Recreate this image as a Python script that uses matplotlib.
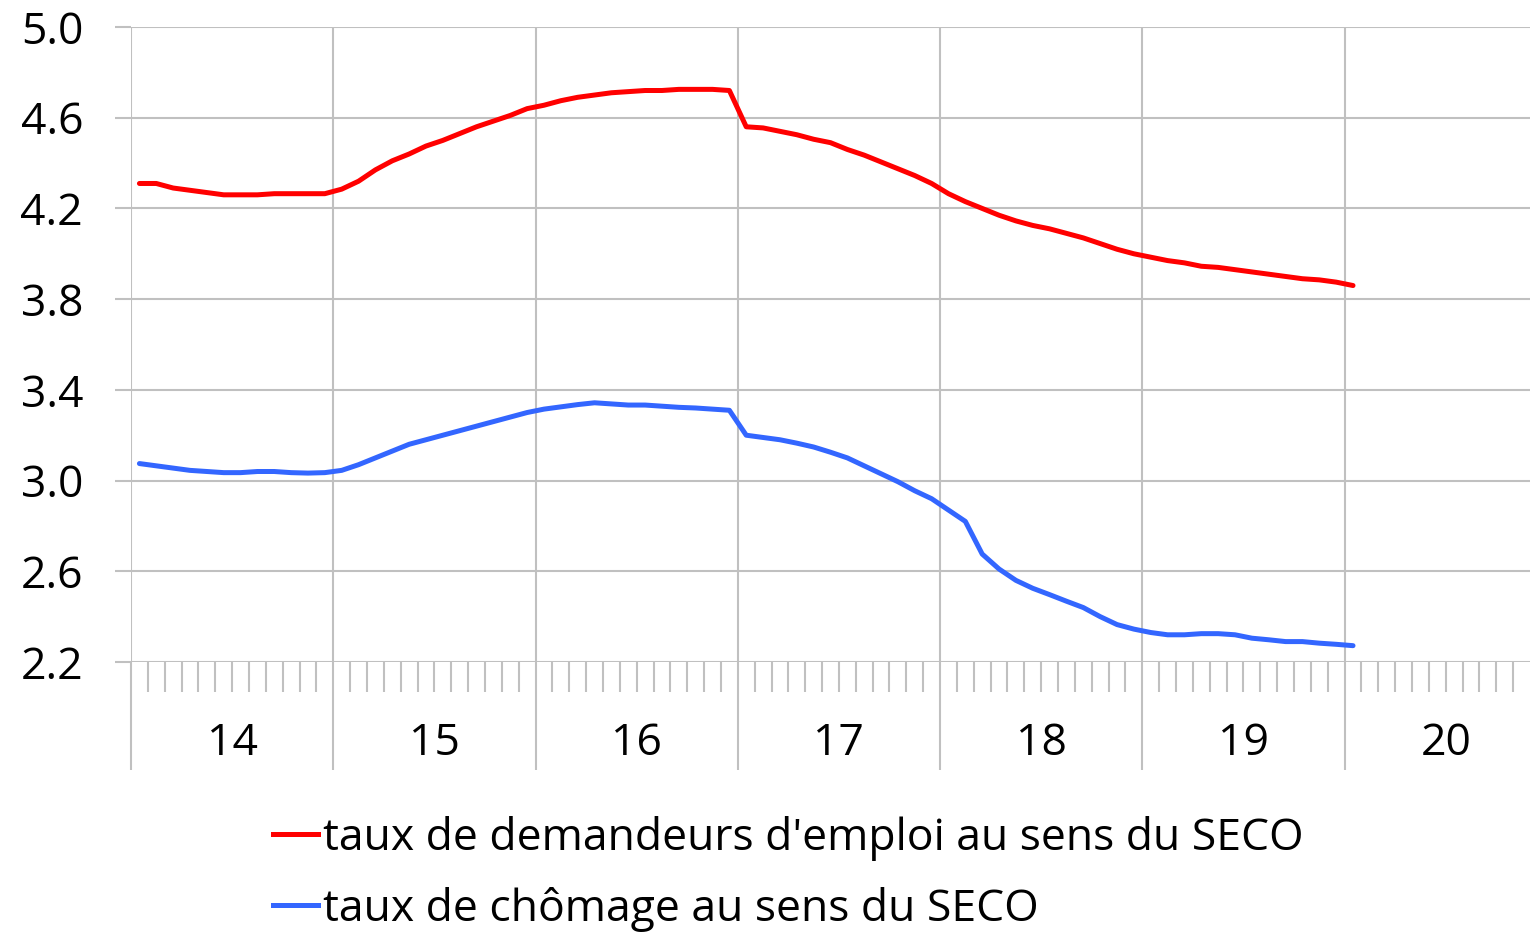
import numpy as np
import matplotlib
matplotlib.use("Agg")
import matplotlib.pyplot as plt
from matplotlib.lines import Line2D

# monthly data, Jan 2014 .. Jan 2020
demandeurs = [4.31, 4.31, 4.29, 4.28, 4.27, 4.26, 4.26, 4.26, 4.265, 4.265, 4.265, 4.265,
              4.285, 4.32, 4.37, 4.41, 4.44, 4.475, 4.50, 4.53, 4.56, 4.585, 4.61, 4.64,
              4.655, 4.675, 4.69, 4.70, 4.71, 4.715, 4.72, 4.72, 4.725, 4.725, 4.725, 4.72,
              4.56, 4.555, 4.54, 4.525, 4.505, 4.49, 4.46, 4.435, 4.405, 4.375, 4.345, 4.31,
              4.265, 4.23, 4.20, 4.17, 4.145, 4.125, 4.11, 4.09, 4.07, 4.045, 4.02, 4.0,
              3.985, 3.97, 3.96, 3.945, 3.94, 3.93, 3.92, 3.91, 3.90, 3.89, 3.885, 3.875,
              3.86]
chomage = [3.075, 3.065, 3.055, 3.045, 3.04, 3.035, 3.035, 3.04, 3.04, 3.035, 3.033, 3.035,
           3.045, 3.07, 3.10, 3.13, 3.16, 3.18, 3.20, 3.22, 3.24, 3.26, 3.28, 3.30,
           3.315, 3.325, 3.335, 3.343, 3.338, 3.333, 3.333, 3.328, 3.323, 3.32, 3.315, 3.31,
           3.20, 3.19, 3.18, 3.165, 3.148, 3.125, 3.10, 3.065, 3.03, 2.995, 2.955, 2.92,
           2.87, 2.82, 2.676, 2.61, 2.56, 2.525, 2.497, 2.468, 2.44, 2.40, 2.365, 2.345,
           2.33, 2.32, 2.32, 2.325, 2.325, 2.32, 2.305, 2.298, 2.29, 2.29, 2.283, 2.278,
           2.272]
years = ["14", "15", "16", "17", "18", "19", "20"]
yticks = [2.2, 2.6, 3.0, 3.4, 3.8, 4.2, 4.6, 5.0]
labels = ["taux de demandeurs d'emploi au sens du SECO", "taux de chômage au sens du SECO"]

plt.rcParams['font.family'] = ['Open Sans', 'DejaVu Sans']
grid_col = '#c0c0c0'
fs = 32

fig = plt.figure(figsize=(15.3, 9.34), dpi=100)
ax = fig.add_axes([131 / 1530, 272 / 934, 1399 / 1530, 635 / 934])

x = np.arange(len(demandeurs)) + 0.5
ax.plot(x, demandeurs, color='#ff0000', lw=3.6, solid_capstyle='round', zorder=3)
ax.plot(x, chomage, color='#3366ff', lw=3.6, solid_capstyle='round', zorder=3)

ax.set_xlim(0, 83)
ax.set_ylim(2.2, 5.0)
for s in ax.spines.values():
    s.set_visible(False)

ax.set_yticks(yticks)
ax.set_yticklabels([f"{v:.1f}" for v in yticks], fontsize=fs)
ax.tick_params(axis='y', length=11.5, width=1.5, color=grid_col, pad=23)

ax.set_xticks(range(0, 84, 12))
ax.set_xticklabels([])
ax.set_xticks([m for m in range(1, 83) if m % 12], minor=True)
ax.tick_params(axis='x', which='major', length=78, width=1.5, color=grid_col)
ax.tick_params(axis='x', which='minor', length=21.6, width=1.5, color=grid_col)
ax.grid(True, which='major', color=grid_col, lw=1.5, zorder=1)

tr = ax.get_xaxis_transform()
for k, yr in enumerate(years):
    ax.text(12 * k + 6, -0.128, yr, transform=tr, ha='center', va='center', fontsize=fs)

handles = [Line2D([], [], color='#ff0000', lw=3.6), Line2D([], [], color='#3366ff', lw=3.6)]
fig.legend(handles, labels, loc='upper left', bbox_to_anchor=(273 / 1530, 1 - 816 / 934),
           frameon=False, fontsize=32, handlelength=1.02, handletextpad=0.1,
           labelspacing=0.58, borderpad=0, borderaxespad=0)

fig.savefig("out.png", dpi=100)
